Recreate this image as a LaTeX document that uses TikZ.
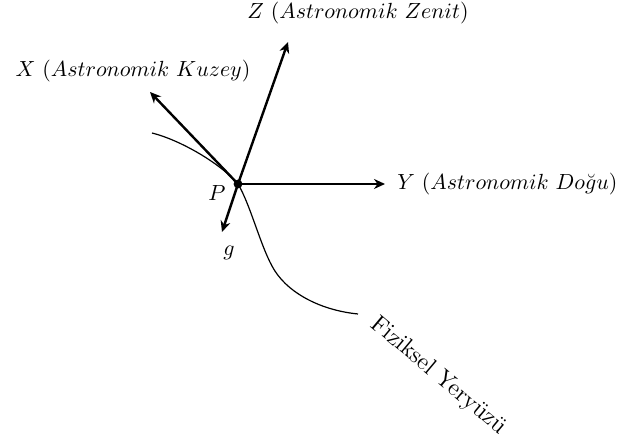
\documentclass[tikz,border=0pt]{standalone}
\usepackage{fontspec}
\usetikzlibrary{arrows.meta,positioning}
\tikzset{
    axis/.style={line width=1.2pt,-{Stealth[length=5.5pt,width=5pt]}},
    lbl/.style={inner sep=1pt,font=\fontsize{10.5}{12.5}\selectfont}
}
\begin{document}
\begin{tikzpicture}[x=0.5pt,y=-0.5pt]
    \useasboundingbox (0,0) rectangle (617,442);
    % nokta ve eksen uclari
    \coordinate (P) at (238,184);
    \coordinate (Zt) at (288,42);
    \coordinate (Xt) at (150,92);
    \coordinate (Yt) at (385,184);
    \coordinate (gt) at (222,232);
    % fiziksel yeryuzu
    \draw[line width=0.6pt]
        (152,133) ..controls (180,140) and (220,163).. (P)
                  ..controls (250,204) and (260,244).. (272,266)
                  ..controls (285,291) and (318,310).. (358,314);
    \draw[axis] (P)--(Zt);
    \draw[axis] (P)--(Xt);
    \draw[axis] (P)--(Yt);
    \draw[axis] (P)--(gt);
    \fill (P) circle (2.2pt);
    \node[lbl, anchor=south] (Z) at (358,26){$Z\ (Astronomik\ Zenit)$};
    \node[lbl, anchor=center] (X) at (133,71){$X\ (Astronomik\ Kuzey)$};
    \node[lbl, right=5pt of Yt] (Y){$Y\ (Astronomik\ Do\breve{g}u)$};
    \node[lbl] (Pl) at (217,193){$P$};
    \node[lbl] (g) at (229,253){$g$};
    \node[lbl, font=\fontsize{12}{14}\selectfont, rotate=-40] (yer) at (438,376){Fiziksel Yeryüzü};
\end{tikzpicture}
\end{document}
